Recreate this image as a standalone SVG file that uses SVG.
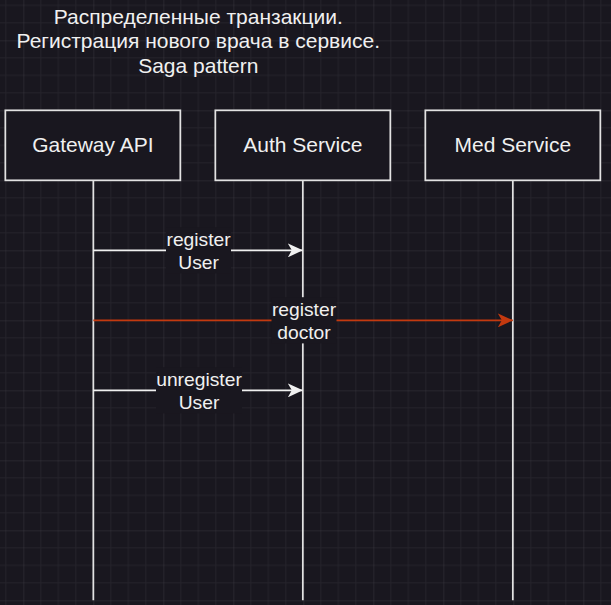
<svg xmlns="http://www.w3.org/2000/svg" width="611" height="605" viewBox="0 0 611 605">
  <style>
    .t { font-family: "Liberation Sans", Arial, sans-serif; fill: #f0f0f0; text-anchor: middle; }
    .title { font-size: 21px; }
    .node-label { font-size: 21px; }
    .edge-label { font-size: 19.25px; }
    .box { fill: #19171f; stroke: #e2e2e2; stroke-width: 1.75; }
    .life { stroke: #e2e2e2; stroke-width: 1.75; fill: none; }
    .msg { stroke: #f0f0f0; stroke-width: 1.75; fill: none; }
    .msg-red { stroke: #c4390f; stroke-width: 1.75; fill: none; }
    .lblbg { fill: #19171f; }
  </style>
  <defs>
    <pattern id="grid" patternUnits="userSpaceOnUse" x="23.33" y="40.33" width="70" height="70">
      <path d="M17.5 0V70M35 0V70M52.5 0V70M0 17.5H70M0 35H70M0 52.5H70" stroke="#25232b" stroke-width="1" fill="none"/>
      <path d="M0 0V70M0 0H70" stroke="#38363e" stroke-width="1" fill="none"/>
    </pattern>
    <marker id="arrW" viewBox="0 0 16 14" refX="15" refY="7" markerWidth="16" markerHeight="14" markerUnits="userSpaceOnUse" orient="auto">
      <path d="M0 0L15 7L0 14L4 7Z" fill="#f0f0f0"/>
    </marker>
    <marker id="arrR" viewBox="0 0 16 14" refX="15" refY="7" markerWidth="16" markerHeight="14" markerUnits="userSpaceOnUse" orient="auto">
      <path d="M0 0L15 7L0 14L4 7Z" fill="#c4390f"/>
    </marker>
  </defs>

  <rect x="0" y="0" width="611" height="605" fill="#19171f"/>
  <rect x="0" y="0" width="611" height="605" fill="url(#grid)"/>

  <g id="title">
    <text class="t title" x="198.3" y="23.5">Распределенные транзакции.</text>
    <text class="t title" x="198.3" y="48">Регистрация нового врача в сервисе.</text>
    <text class="t title" x="198.3" y="72.5">Saga pattern</text>
  </g>

  <g id="lifelines">
    <line class="life" x1="93.33" y1="180.33" x2="93.33" y2="600.33"/>
    <line class="life" x1="302.83" y1="180.33" x2="302.83" y2="600.33"/>
    <line class="life" x1="512.83" y1="180.33" x2="512.83" y2="600.33"/>
  </g>

  <g id="gateway">
    <rect class="box" x="5.33" y="110.33" width="175" height="70"/>
    <text class="t node-label" x="92.83" y="151.7">Gateway API</text>
  </g>
  <g id="auth">
    <rect class="box" x="215.33" y="110.33" width="175" height="70"/>
    <text class="t node-label" x="302.83" y="151.7">Auth Service</text>
  </g>
  <g id="med">
    <rect class="box" x="425.33" y="110.33" width="175" height="70"/>
    <text class="t node-label" x="512.83" y="151.7">Med Service</text>
  </g>

  <g id="connectors">
    <g id="msg-register-user">
      <line class="msg" x1="93.33" y1="250.33" x2="302.83" y2="250.33" marker-end="url(#arrW)"/>
      <rect class="lblbg" x="166" y="227.2" width="65" height="46.2"/>
      <text class="t edge-label" x="198.6" y="246.3">register</text>
      <text class="t edge-label" x="198.6" y="269.4">User</text>
    </g>
    <g id="msg-register-doctor">
      <line class="msg-red" x1="93.33" y1="320.33" x2="512.83" y2="320.33" marker-end="url(#arrR)"/>
      <rect class="lblbg" x="271.5" y="297.2" width="65" height="46.2"/>
      <text class="t edge-label" x="304" y="316.3">register</text>
      <text class="t edge-label" x="304" y="339.4">doctor</text>
    </g>
    <g id="msg-unregister-user">
      <line class="msg" x1="93.33" y1="390.33" x2="302.83" y2="390.33" marker-end="url(#arrW)"/>
      <rect class="lblbg" x="156" y="367.2" width="86" height="46.2"/>
      <text class="t edge-label" x="199" y="386.3">unregister</text>
      <text class="t edge-label" x="199" y="409.4">User</text>
    </g>
  </g>
</svg>
